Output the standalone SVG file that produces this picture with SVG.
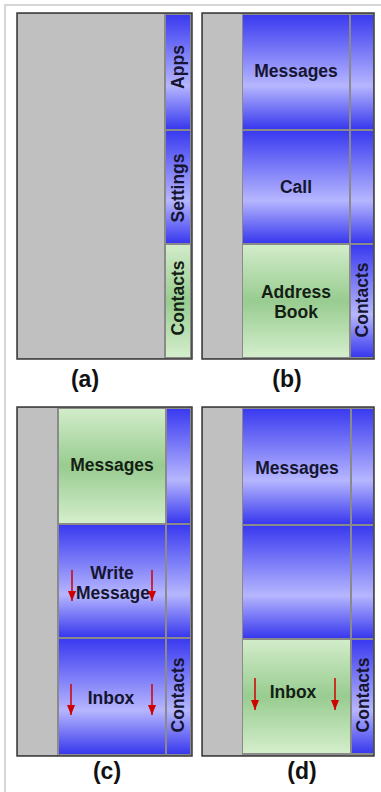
<svg xmlns="http://www.w3.org/2000/svg" width="381" height="792" viewBox="0 0 381 792">
<defs>
<linearGradient id="gBlue" x1="0" y1="0" x2="0" y2="1">
<stop offset="0" stop-color="#3a3af0"/>
<stop offset="0.62" stop-color="#b6b6ff"/>
<stop offset="1" stop-color="#3838ee"/>
</linearGradient>
<linearGradient id="gGreen" x1="0" y1="0" x2="0" y2="1">
<stop offset="0" stop-color="#d2ecca"/>
<stop offset="0.5" stop-color="#98cc90"/>
<stop offset="1" stop-color="#d4eecc"/>
</linearGradient>
<marker id="ah" viewBox="0 0 10 8" refX="10" refY="4" markerWidth="10" markerHeight="8" markerUnits="userSpaceOnUse" orient="auto">
<path d="M0,0 L10,4 L0,8 Z" fill="#d00000"/>
</marker>
</defs>
<style>
.frame{fill:#8a8a8a;stroke:#3a3a3a;stroke-width:1.5}
.gray{fill:#c0c0c0}
.blue{fill:url(#gBlue)}
.green{fill:url(#gGreen)}
.t{font-family:"Liberation Sans",Arial,sans-serif;font-weight:bold;font-size:17.5px;text-anchor:middle;fill:#151530}
.tg{fill:#142014}
.lab{font-family:"Liberation Sans",Arial,sans-serif;font-weight:bold;font-size:23px;text-anchor:middle;fill:#111}
.arr{stroke:#d00000;stroke-width:1.5;fill:none}
</style>
<rect width="381" height="792" fill="#fff"/>
<path d="M5,792 V5 H381" fill="none" stroke="#d6d6d6" stroke-width="2"/>

<g id="panel-a">
<rect class="frame" x="17" y="13" width="175" height="346"/>
<rect class="gray" x="18" y="14" width="146" height="344"/>
<g id="a-apps"><rect class="blue" x="166" y="15" width="24" height="114"/><text class="t" transform="translate(184,67) rotate(-90)">Apps</text></g>
<g id="a-settings"><rect class="blue" x="166" y="131" width="24" height="112"/><text class="t" transform="translate(184,188) rotate(-90)">Settings</text></g>
<g id="a-contacts"><rect class="green" x="166" y="245" width="24" height="112"/><text class="t tg" transform="translate(184,298) rotate(-90)">Contacts</text></g>
<text class="lab" x="85" y="387">(a)</text>
</g>

<g id="panel-b">
<rect class="frame" x="202" y="13" width="172" height="346"/>
<rect class="gray" x="203" y="14" width="39" height="344"/>
<g id="b-messages"><rect class="blue" x="243" y="15" width="106" height="114"/><text class="t" x="296" y="77">Messages</text></g>
<g id="b-call"><rect class="blue" x="243" y="131" width="106" height="112"/><text class="t" x="296" y="193">Call</text></g>
<g id="b-address"><rect class="green" x="243" y="245" width="106" height="112"/><text class="t tg" x="296" y="298">Address</text><text class="t tg" x="296" y="318">Book</text></g>
<g id="b-side1"><rect class="blue" x="351" y="15" width="22" height="114"/></g>
<g id="b-side2"><rect class="blue" x="351" y="131" width="22" height="112"/></g>
<g id="b-contacts"><rect class="blue" x="351" y="245" width="22" height="112"/><text class="t" transform="translate(368,300) rotate(-90)">Contacts</text></g>
<text class="lab" x="287" y="387">(b)</text>
</g>

<g id="panel-c">
<rect class="frame" x="17" y="407" width="175" height="349"/>
<rect class="gray" x="18" y="408" width="39" height="347"/>
<g id="c-messages"><rect class="green" x="59" y="409" width="106" height="114"/><text class="t tg" x="112" y="471">Messages</text></g>
<g id="c-write"><rect class="blue" x="59" y="525" width="106" height="112"/><text class="t" x="112" y="579">Write</text><text class="t" x="113" y="599">Message</text></g>
<g id="c-inbox"><rect class="blue" x="59" y="639" width="106" height="115"/><text class="t" x="111" y="704">Inbox</text></g>
<g id="c-side1"><rect class="blue" x="167" y="409" width="23" height="114"/></g>
<g id="c-side2"><rect class="blue" x="167" y="525" width="23" height="112"/></g>
<g id="c-contacts"><rect class="blue" x="167" y="639" width="23" height="115"/><text class="t" transform="translate(184,695) rotate(-90)">Contacts</text></g>
<text class="lab" x="107" y="779">(c)</text>
</g>

<g id="panel-d">
<rect class="frame" x="202" y="407" width="172" height="349"/>
<rect class="gray" x="203" y="408" width="39" height="347"/>
<g id="d-messages"><rect class="blue" x="243" y="409" width="107" height="115"/><text class="t" x="297" y="474">Messages</text></g>
<g id="d-blank"><rect class="blue" x="243" y="526" width="107" height="112"/></g>
<g id="d-inbox"><rect class="green" x="243" y="640" width="107" height="113"/><text class="t tg" x="293" y="698">Inbox</text></g>
<g id="d-side1"><rect class="blue" x="352" y="409" width="21" height="115"/></g>
<g id="d-side2"><rect class="blue" x="352" y="526" width="21" height="112"/></g>
<g id="d-contacts"><rect class="blue" x="352" y="640" width="21" height="113"/><text class="t" transform="translate(369,695) rotate(-90)">Contacts</text></g>
<text class="lab" x="302" y="779">(d)</text>
</g>

<g id="connectors">
<line class="arr" x1="72" y1="570" x2="72" y2="601" marker-end="url(#ah)"/>
<line class="arr" x1="152" y1="570" x2="152" y2="601" marker-end="url(#ah)"/>
<line class="arr" x1="71" y1="684" x2="71" y2="715" marker-end="url(#ah)"/>
<line class="arr" x1="152" y1="684" x2="152" y2="715" marker-end="url(#ah)"/>
<line class="arr" x1="255" y1="678" x2="255" y2="710" marker-end="url(#ah)"/>
<line class="arr" x1="335" y1="678" x2="335" y2="710" marker-end="url(#ah)"/>
</g>
</svg>
